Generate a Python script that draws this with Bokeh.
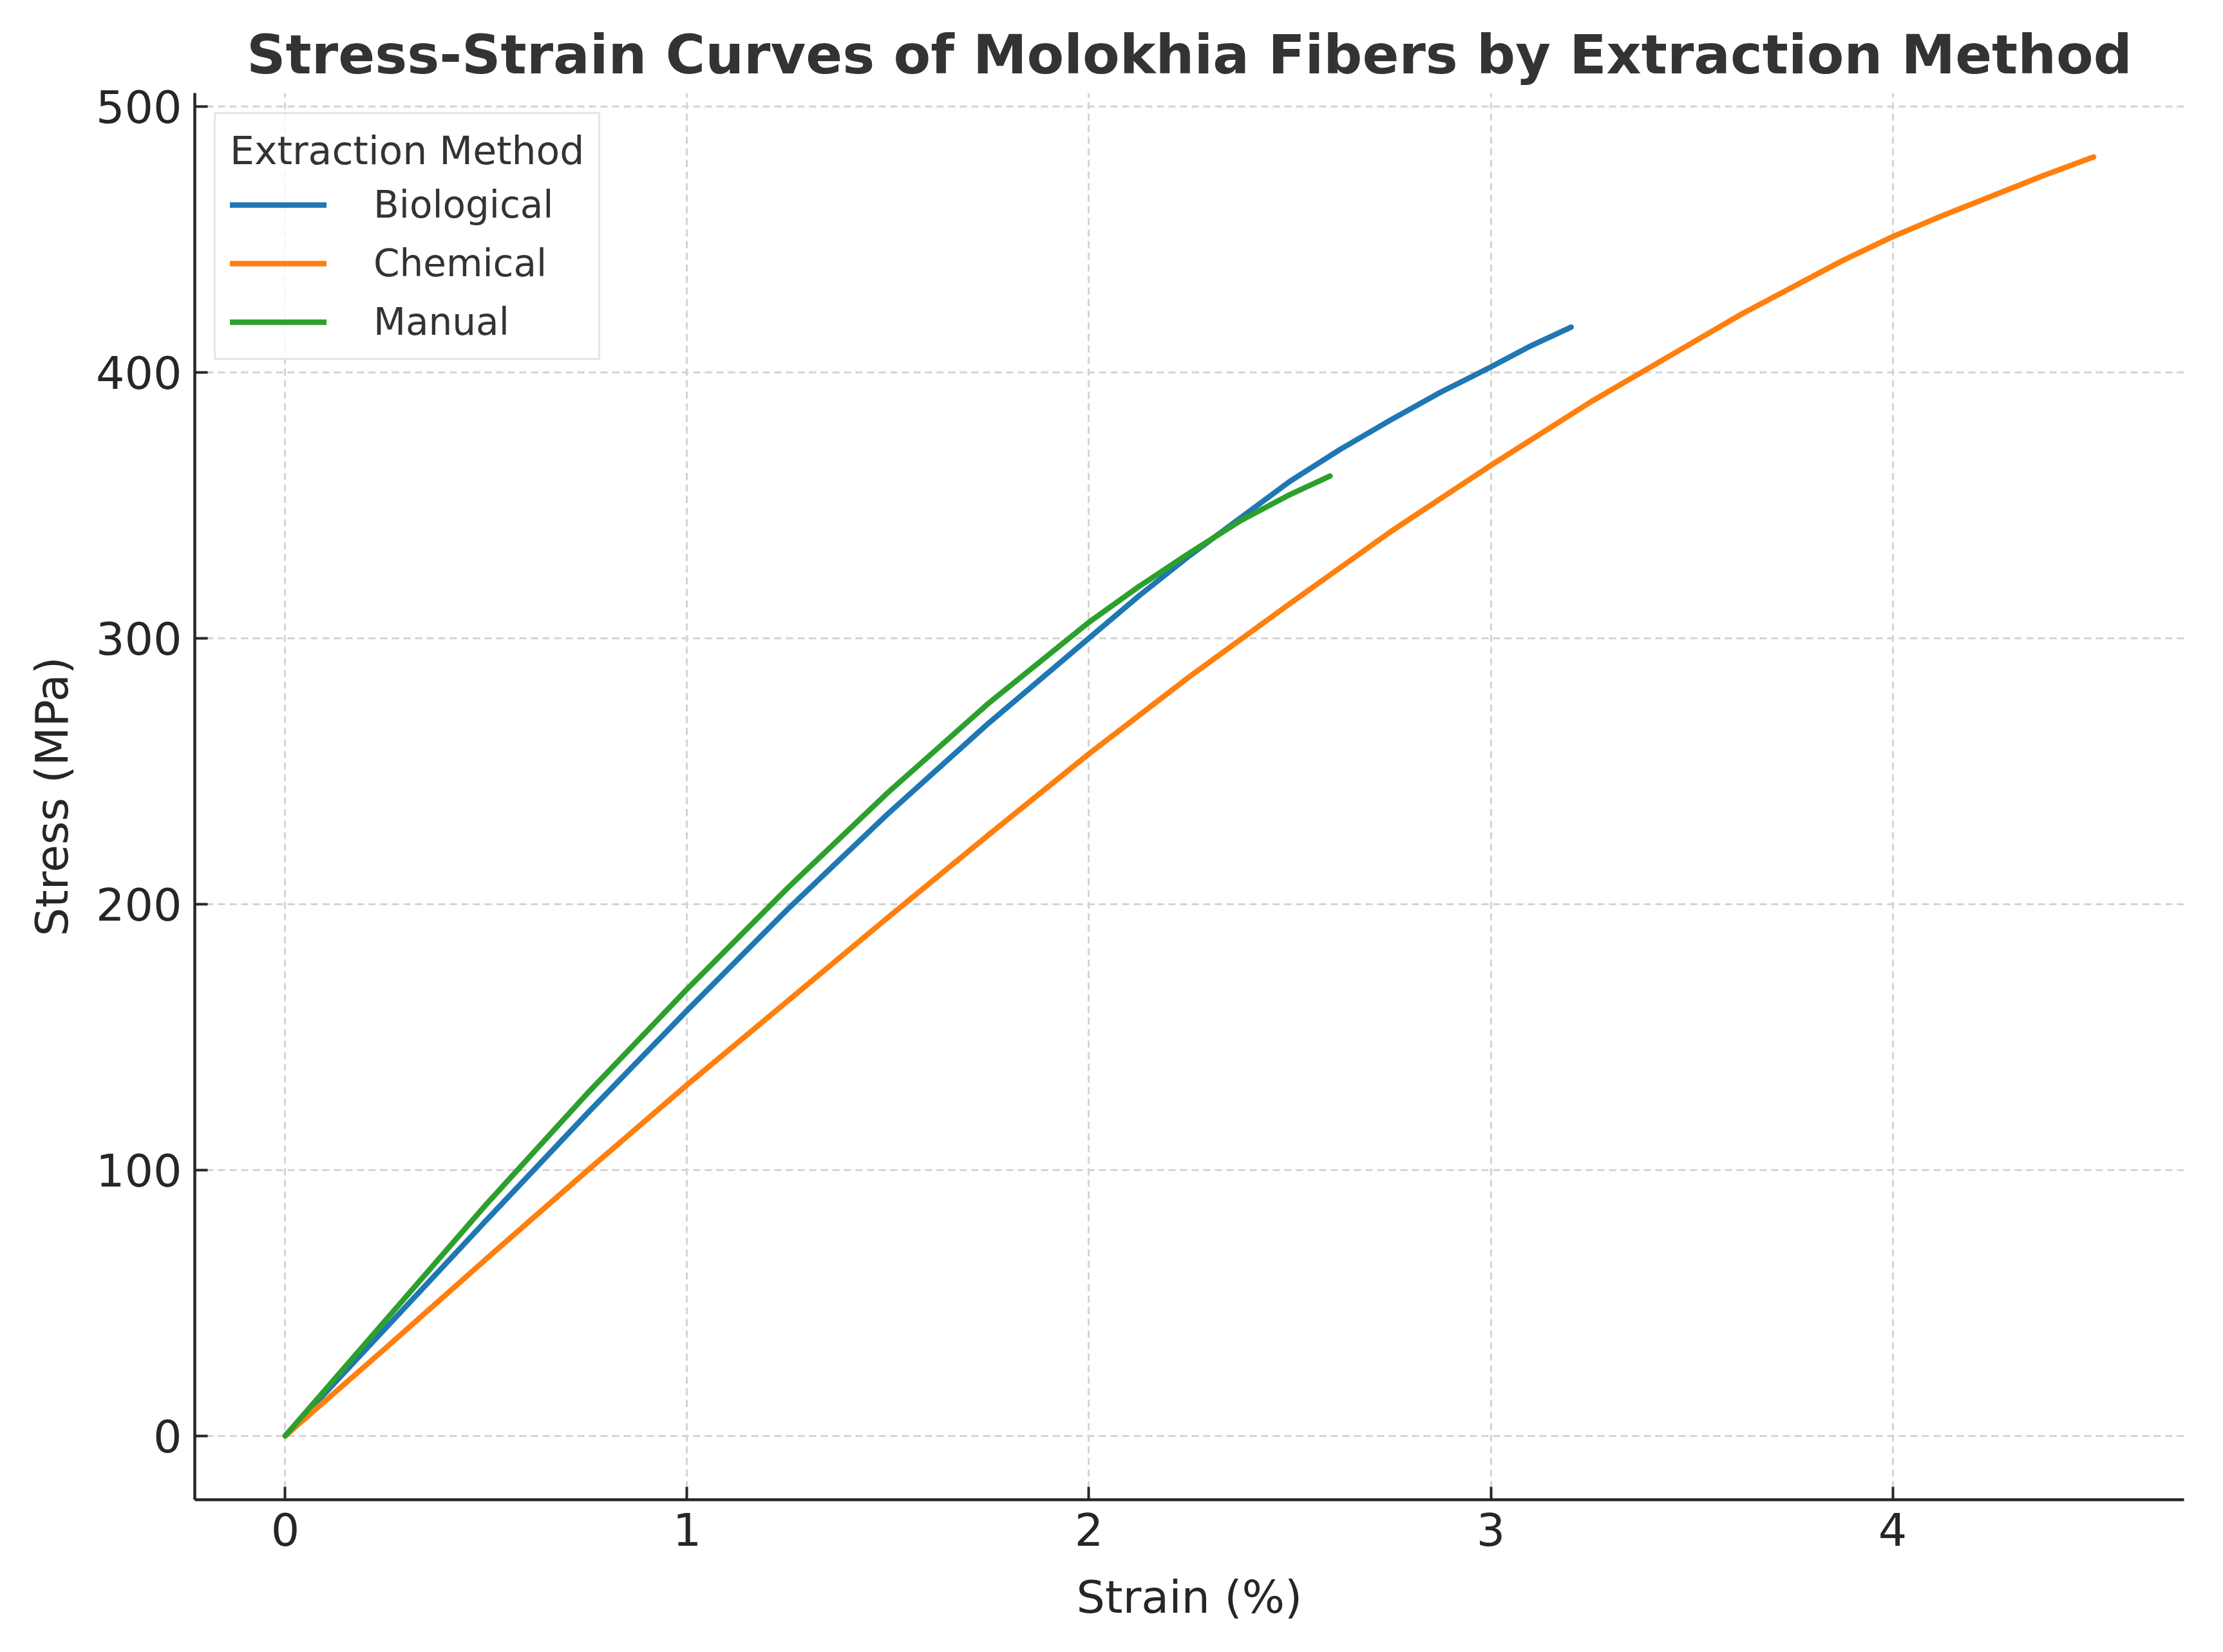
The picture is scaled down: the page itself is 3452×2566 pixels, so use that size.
from bokeh.plotting import figure
from bokeh.models import Range1d, FixedTicker, Legend, LegendItem, ColumnDataSource
from bokeh.embed import file_html
from bokeh.resources import INLINE

# Stress-strain readings per extraction method (strain in %, stress in MPa)
bio_strain = [0.0, 0.25, 0.5, 0.75, 1.0, 1.25, 1.5, 1.75, 2.0, 2.125, 2.25, 2.375,
              2.5, 2.625, 2.75, 2.875, 3.0, 3.1, 3.2]
bio_stress = [0, 40.5, 81, 121, 160, 198, 234, 268, 300, 316, 331, 345,
              359, 371, 382, 392.5, 402, 410, 417]

chem_strain = [0.0, 0.25, 0.5, 0.75, 1.0, 1.25, 1.5, 1.75, 2.0, 2.25, 2.5, 2.75,
               3.0, 3.25, 3.5, 3.625, 3.75, 3.875, 4.0, 4.125, 4.25, 4.375, 4.5]
chem_stress = [0, 33, 66.5, 99.5, 132, 163.5, 195, 226, 256.5, 285.5, 313, 340,
               365, 389, 411, 422, 432, 442, 451, 459, 466.5, 474, 481]

man_strain = [0.0, 0.25, 0.5, 0.75, 1.0, 1.25, 1.5, 1.75, 2.0, 2.125, 2.25, 2.375,
              2.5, 2.6]
man_stress = [0, 43.5, 87, 128.5, 168, 206, 242, 275.5, 306, 319.5, 332, 344,
              354, 361]

methods = ["Biological", "Chemical", "Manual"]
colors = ["#1f77b4", "#ff7f0e", "#2ca02c"]
series = [(bio_strain, bio_stress), (chem_strain, chem_stress), (man_strain, man_stress)]

x_ticks = [0, 1, 2, 3, 4]
y_ticks = [0, 100, 200, 300, 400, 500]

FONT = "DejaVu Sans"
TEXT = "#262626"

p = figure(
    width=3452, height=2566,
    output_backend="svg", toolbar_location=None,
    x_range=Range1d(-0.225, 4.725), y_range=Range1d(-24.05, 505.05),
    min_border_left=302, min_border_right=61,
    min_border_top=144, min_border_bottom=237,
)
p.outline_line_color = None
p.background_fill_color = "white"
p.border_fill_color = "white"

p.title.text = "Stress-Strain Curves of Molokhia Fibers by Extraction Method"
p.title.align = "center"
p.title.standoff = 21
p.title.text_font = FONT
p.title.text_font_style = "bold"
p.title.text_font_size = "84px"
p.title.text_color = "#333333"

for ax, ticks in ((p.xaxis[0], x_ticks), (p.yaxis[0], y_ticks)):
    ax.ticker = FixedTicker(ticks=ticks)
    ax.minor_tick_line_color = None
    ax.major_tick_in = 20
    ax.major_tick_out = 0
    ax.major_tick_line_width = 4
    ax.major_tick_line_color = TEXT
    ax.axis_line_width = 4.5
    ax.axis_line_color = TEXT
    ax.major_label_text_font = FONT
    ax.major_label_text_font_size = "70px"
    ax.major_label_text_color = TEXT
    ax.axis_label_text_font = FONT
    ax.axis_label_text_font_size = "70px"
    ax.axis_label_text_font_style = "normal"
    ax.axis_label_text_color = TEXT

p.xaxis.axis_label = "Strain (%)"
p.yaxis.axis_label = "Stress (MPa)"
p.xaxis.major_label_standoff = 20
p.yaxis.major_label_standoff = 20
p.xaxis.axis_label_standoff = 36
p.yaxis.axis_label_standoff = 24

for g in (p.xgrid[0], p.ygrid[0]):
    g.grid_line_color = "#d4d4d4"
    g.grid_line_width = 3
    g.grid_line_dash = "11 7"

items = []
for name, color, (xs, ys) in zip(methods, colors, series):
    src = ColumnDataSource(data=dict(strain=xs, stress=ys))
    r = p.line("strain", "stress", source=src, line_color=color, line_width=8.5,
               line_join="round", line_cap="round")
    items.append(LegendItem(label=name, renderers=[r]))

legend = Legend(
    items=items,
    location="top_left",
    title="Extraction Method",
    title_text_font=FONT,
    title_text_font_size="60px",
    title_text_font_style="normal",
    title_text_color="#333333",
    title_standoff=15,
    label_text_font=FONT,
    label_text_font_size="58px",
    label_text_color="#333333",
    glyph_width=150,
    glyph_height=40,
    label_standoff=73,
    spacing=23,
    padding=22,
    margin=30,
    border_line_color="#cccccc",
    border_line_width=3,
    background_fill_color="white",
    background_fill_alpha=0.8,
)
p.add_layout(legend)

open("out.html", "w").write(file_html(p, INLINE))
